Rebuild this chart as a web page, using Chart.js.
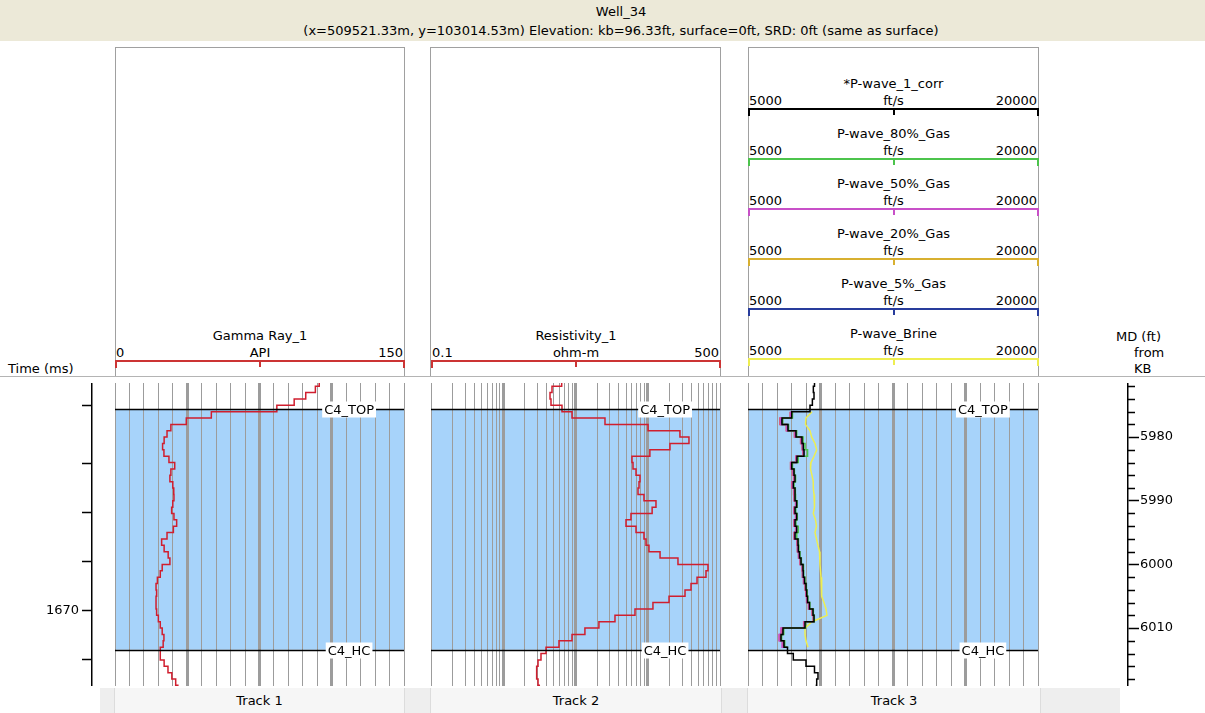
<!DOCTYPE html>
<html>
<head>
<meta charset="utf-8">
<title>Well_34</title>
<script src="https://cdn.jsdelivr.net/npm/chart.js@4.4.0/dist/chart.umd.min.js"></script>
<style>
    body {
        margin: 0;
        width: 1205px;
        height: 713px;
        position: relative;
        overflow: hidden;
        background: #fff;
        font-family: "DejaVu Sans", sans-serif;
        font-size: 13px;
        color: #000;
    }
    .abs { position: absolute; }
    .txt { position: absolute; white-space: nowrap; line-height: 15px; height: 15px; }
    #wellBand { left: 0; top: 0; width: 1205px; height: 41px; background: #ece9d8; }
    #wellHeader {
        left: 0; top: 0; width: 1242px; height: 41px;
        text-align: center; line-height: 19px;
        padding-top: 2px; box-sizing: border-box;
    }
    .head { border: 1px solid #a0a0a0; border-bottom: none; background: #fff; box-sizing: border-box; }
    .tab { background: #f6f6f6; border-left: 1px solid #dcdcdc; border-right: 1px solid #dcdcdc;
           text-align: center; line-height: 25px; box-sizing: border-box; }
    canvas { position: absolute; }
</style>
</head>
<body>
<div id="wellBand" class="abs"></div>
<div id="wellHeader" class="abs">Well_34<br>(x=509521.33m, y=103014.53m) Elevation: kb=96.33ft, surface=0ft, SRD: 0ft (same as surface)</div>

<canvas id="timeAxis" width="100" height="303" style="left:0px; top:383px"></canvas>
<canvas id="track1" width="293" height="303" style="left:113px; top:383px"></canvas>
<canvas id="track2" width="293" height="303" style="left:429px; top:383px"></canvas>
<canvas id="track3" width="294" height="303" style="left:746px; top:383px"></canvas>
<canvas id="mdAxis" width="85" height="303" style="left:1120px; top:383px"></canvas>

<script>
// measured depth samples (ft), one per foot
const DEPTH = [5971, 5972, 5973, 5974, 5975, 5976, 5977, 5978, 5979, 5980,
    5981, 5982, 5983, 5984, 5985, 5986, 5987, 5988, 5989, 5990,
    5991, 5992, 5993, 5994, 5995, 5996, 5997, 5998, 5999, 6000,
    6001, 6002, 6003, 6004, 6005, 6006, 6007, 6008, 6009, 6010,
    6011, 6012, 6013, 6014, 6015, 6016, 6017, 6018, 6019];

// Track 1 - Gamma Ray_1 (API)
const GAMMA = [106, 104, 99, 93, 84, 50, 37, 29, 27, 25.5,
    24.7, 25.4, 28, 31, 29, 28.5, 30, 30.5, 30.6, 30,
    29.4, 30.6, 32, 30.3, 27, 24.2, 25.5, 27.6, 28.5, 24.5,
    23.5, 22, 21.3, 21.6, 21.3, 21.3, 21.6, 22.5, 23.5, 24.5,
    25.4, 25, 23.5, 23.5, 25.5, 27.5, 29.5, 31.5, 33];

// Track 2 - Resistivity_1 (ohm-m)
const RESIST = [6.44, 4.73, 4.44, 4.58, 6.5, 8.95, 25.6, 101, 279, 372,
    203, 107, 60.5, 62.5, 68.8, 78.1, 75.7, 73.3, 88.7, 130,
    115, 58.6, 50, 68.8, 88.7, 94.6, 104, 148, 262, 682,
    640, 481, 397, 328, 197, 118, 66.6, 35.2, 21.1, 13.5,
    8.95, 5.91, 3.91, 3.33, 3.03, 2.9, 2.9, 3.03, 3.23];

// Track 3 - *P-wave_1_corr (ft/s), whole interval
const PW_CORR = [8440, 8380, 8414, 8330, 8207, 7260, 6758, 7069, 7483, 7793,
    7860, 7896, 7534, 7260, 7379, 7431, 7343, 7431, 7431, 7519,
    7431, 7519, 7431, 7519, 7431, 7586, 7602, 7664, 7741, 7845,
    7860, 7922, 8000, 8036, 8077, 8181, 8362, 8414, 7948, 6810,
    6707, 6862, 7043, 7343, 8000, 8439, 8620, 8553, 8500];

// substituted curves, only inside the C4 zone (5976 - 6013 ft)
const ZONE_DEPTH = DEPTH.slice(5, 43);
const PW_80 = [7300, 6800, 7100, 7520, 7850, 7950, 8080, 7600, 7300, 7400,
    7460, 7380, 7450, 7460, 7540, 7470, 7550, 7480, 7600, 7520,
    7610, 7630, 7690, 7760, 7870, 7880, 7950, 8020, 8060, 8100,
    8200, 8380, 8430, 7980, 6850, 6740, 6900, 7080];
const PW_50 = [7200, 6680, 7000, 7430, 7750, 7820, 7860, 7490, 7220, 7330,
    7390, 7290, 7390, 7400, 7480, 7390, 7480, 7390, 7480, 7400,
    7550, 7570, 7630, 7710, 7810, 7830, 7890, 7970, 8010, 8050,
    8150, 8330, 8390, 7900, 6700, 6600, 6760, 6980];
const PW_20 = [7180, 6650, 6980, 7400, 7720, 7800, 7840, 7470, 7200, 7300,
    7360, 7260, 7360, 7380, 7460, 7370, 7460, 7370, 7460, 7380,
    7530, 7550, 7610, 7690, 7790, 7810, 7870, 7950, 7990, 8030,
    8130, 8310, 8370, 7880, 6740, 6650, 6800, 7000];
const PW_5 = [7230, 6720, 7040, 7460, 7770, 7840, 7880, 7510, 7240, 7350,
    7410, 7320, 7410, 7410, 7500, 7410, 7500, 7410, 7500, 7410,
    7570, 7590, 7650, 7720, 7830, 7850, 7910, 7990, 8020, 8060,
    8160, 8350, 8400, 7920, 6760, 6680, 6830, 7020];
const PW_BRINE = [8310, 8000, 7974, 8207, 8294, 8465, 8553, 8414, 8258, 8233,
    8310, 8377, 8377, 8414, 8465, 8414, 8377, 8491, 8543, 8465,
    8543, 8620, 8698, 8724, 8724, 8750, 8776, 8791, 8812, 8827,
    8931, 9034, 9086, 8310, 7948, 7948, 8000, 8103];

// formation tops
const TOPS_NAME = ['C4_TOP', 'C4_HC'];
const TOPS_MD = [5975.6, 6013.4];

// header curve scales of track 3
const T3_NAMES = ['*P-wave_1_corr', 'P-wave_80%_Gas', 'P-wave_50%_Gas', 'P-wave_20%_Gas', 'P-wave_5%_Gas', 'P-wave_Brine'];
const T3_COLORS = ['#000000', '#4cc44c', '#c850c8', '#d8b030', '#283c9c', '#eeee50'];
const T3_MIN = 5000;
const T3_MAX = 20000;

// depth axis ticks
const MD_MIN = 5971.5;
const MD_MAX = 6019.1;
const MD_MAJOR = [5980, 5990, 6000, 6010];
const MD_MINOR = [5972, 5974, 5976, 5978, 5982, 5984, 5986, 5988, 5992, 5994, 5996, 5998,
    6002, 6004, 6006, 6008, 6012, 6014, 6016, 6018];

// time-depth table for the time axis ticks
const TIME_TICKS = [1662, 1664, 1666, 1668, 1670, 1672];
const TIME_TICK_MD = [5975.0, 5984.1, 5991.9, 5999.6, 6007.3, 6015.0];
const TIME_LABELS = [1670];

const BLUE_ZONE = '#a7d3fa';
const CURVE_RED = '#d01e2e';
const GRID = '#9c9c9c';
const FONT = '"DejaVu Sans", sans-serif';

window.onload = function () {
    buildHeaders();
    initTimeAxis();
    initTracks();
    initMdAxis();
};

function addText(text, left, top, width, align) {
    let d = document.createElement('div');
    d.className = 'txt';
    d.style.left = left + 'px';
    d.style.top = top + 'px';
    d.style.width = width + 'px';
    d.style.textAlign = align;
    d.textContent = text;
    document.body.appendChild(d);
}

function addBox(left, top, width, height, css) {
    let d = document.createElement('div');
    d.className = 'abs';
    d.style.cssText += 'left:' + left + 'px;top:' + top + 'px;width:' + width + 'px;height:' + height + 'px;' + (css || '');
    document.body.appendChild(d);
    return d;
}

function addScale(left, width, lineY, name, unit, lo, hi, color) {
    addText(name, left, lineY - 33, width, 'center');
    addText(lo, left + 1, lineY - 16, width, 'left');
    addText(unit, left, lineY - 16, width, 'center');
    addText(hi, left, lineY - 16, width - 2, 'right');
    addBox(left, lineY - 1, width, 2, 'background:' + color);
    addBox(left, lineY - 1, 2, 8, 'background:' + color);
    addBox(left + Math.round(width / 2) - 1, lineY - 1, 2, 7, 'background:' + color);
    addBox(left + width - 2, lineY - 1, 2, 8, 'background:' + color);
}

function buildHeaders() {
    // track header boxes
    addBox(115, 47, 290, 330, '').className = 'abs head';
    addBox(430, 47, 291, 330, '').className = 'abs head';
    addBox(748, 47, 291, 330, '').className = 'abs head';

    addScale(115, 290, 361, 'Gamma Ray_1', 'API', '0', '150', '#cc3434');
    addScale(431, 290, 361, 'Resistivity_1', 'ohm-m', '0.1', '500', '#cc3434');
    for (let i = 0; i < T3_NAMES.length; i++) {
        addScale(748, 291, 109 + i * 50, T3_NAMES[i], 'ft/s', String(T3_MIN), String(T3_MAX), T3_COLORS[i]);
    }

    // separator between headers and log bodies
    addBox(0, 376, 1205, 0, 'border-top:1px solid #b4b4b4');

    addText('Time (ms)', 8, 361, 80, 'left');
    addText('MD (ft)', 1116, 329, 60, 'left');
    addText('from', 1134, 345, 40, 'left');
    addText('KB', 1134, 361, 40, 'left');

    // track tabs at the bottom
    addBox(100, 688, 1020, 25, 'background:#eeeeee');
    let tabs = [[114, 291, 'Track 1'], [430, 292, 'Track 2'], [747, 294, 'Track 3']];
    for (let t of tabs) {
        let d = addBox(t[0], 688, t[1], 25, '');
        d.className = 'abs tab';
        d.textContent = t[2];
    }
}

const zonePlugin = {
    id: 'zone',
    beforeDraw(chart) {
        let a = chart.chartArea;
        let y = chart.scales.y;
        let c = chart.ctx;
        let y1 = y.getPixelForValue(TOPS_MD[0]);
        let y2 = y.getPixelForValue(TOPS_MD[1]);
        c.save();
        c.fillStyle = BLUE_ZONE;
        c.fillRect(a.left, y1, a.right - a.left, y2 - y1);
        c.restore();
    }
};

const topsPlugin = {
    id: 'tops',
    afterDatasetsDraw(chart) {
        let a = chart.chartArea;
        let y = chart.scales.y;
        let c = chart.ctx;
        c.save();
        c.font = '13px ' + FONT;
        c.textAlign = 'center';
        c.textBaseline = 'middle';
        for (let i = 0; i < TOPS_MD.length; i++) {
            let py = Math.round(y.getPixelForValue(TOPS_MD[i])) + 0.5;
            c.strokeStyle = '#000';
            c.lineWidth = 1.5;
            c.beginPath();
            c.moveTo(a.left, py);
            c.lineTo(a.right, py);
            c.stroke();
            let cx = a.left + (a.right - a.left) * 0.81;
            let w = c.measureText(TOPS_NAME[i]).width + 4;
            c.fillStyle = '#fff';
            c.fillRect(cx - w / 2, py - 8, w, 16);
            c.fillStyle = '#000';
            c.fillText(TOPS_NAME[i], cx, py + 1);
        }
        c.restore();
    }
};

function gridOptions(thick) {
    return {
        drawTicks: false,
        color: GRID,
        lineWidth: function (ctx) {
            return thick.indexOf(ctx.tick.value) >= 0 ? 3 : 1;
        }
    };
}

function xScale(type, min, max, gridValues, thick) {
    return {
        type: type,
        min: min,
        max: max,
        afterBuildTicks: function (s) {
            s.ticks = gridValues.map(v => ({ value: v }));
        },
        afterFit: function (s) {
            s.height = 0;
        },
        ticks: { display: false },
        border: { display: false },
        grid: gridOptions(thick)
    };
}

function curve(xs, ys, color, width, stepped) {
    return {
        data: xs.map((v, i) => ({ x: v, y: ys[i] })),
        showLine: true,
        borderColor: color,
        borderWidth: width,
        pointRadius: 0,
        stepped: stepped,
        fill: false
    };
}

function trackChart(canvasId, scaleX, datasets) {
    let ctx = document.getElementById(canvasId).getContext('2d');
    return new Chart(ctx, {
        type: 'scatter',
        data: { datasets: datasets },
        options: {
            responsive: false,
            animation: false,
            events: [],
            layout: { padding: { left: 2, right: 2, top: 0, bottom: 0 } },
            plugins: { legend: { display: false }, tooltip: { enabled: false } },
            scales: {
                x: scaleX,
                y: { display: false, reverse: true, min: MD_MIN, max: MD_MAX }
            }
        },
        plugins: [zonePlugin, topsPlugin]
    });
}

function initTracks() {
    // linear grids: 20 divisions, heavier line every quarter
    let grGrid = [];
    for (let i = 0; i <= 20; i++) grGrid.push(i * 7.5);
    let pwGrid = [];
    for (let i = 0; i <= 20; i++) pwGrid.push(T3_MIN + i * 750);
    // log grid, four decades
    let resGrid = [];
    [0.1, 1, 10, 100].forEach(function (dec) {
        for (let k = 1; k <= 9; k++) {
            resGrid.push(Math.round(dec * k * 10) / 10);
        }
    });
    resGrid.push(1000);

    trackChart('track1', xScale('linear', 0, 150, grGrid, [37.5, 75, 112.5]), [
        curve(GAMMA, DEPTH, CURVE_RED, 1.5, 'after')
    ]);

    trackChart('track2', xScale('logarithmic', 0.1, 1000, resGrid, [1, 10, 100]), [
        curve(RESIST, DEPTH, CURVE_RED, 1.5, 'after')
    ]);

    trackChart('track3', xScale('linear', T3_MIN, T3_MAX, pwGrid, [8750, 12500, 16250]), [
        curve(PW_CORR, DEPTH, T3_COLORS[0], 1.5, 'after'),
        curve(PW_80, ZONE_DEPTH, T3_COLORS[1], 1.5, 'after'),
        curve(PW_50, ZONE_DEPTH, T3_COLORS[2], 1.5, 'after'),
        curve(PW_20, ZONE_DEPTH, '#e05050', 1.5, 'after'),
        curve(PW_5, ZONE_DEPTH, T3_COLORS[4], 1.5, 'after'),
        curve(PW_BRINE, ZONE_DEPTH, T3_COLORS[5], 1.5, false)
    ]);
}

function noPadding(s, width) {
    s.width = width;
    s.paddingTop = 0;
    s.paddingBottom = 0;
}

function initTimeAxis() {
    let ctx = document.getElementById('timeAxis').getContext('2d');
    new Chart(ctx, {
        type: 'scatter',
        data: { datasets: [] },
        options: {
            responsive: false,
            animation: false,
            events: [],
            layout: { padding: 0 },
            plugins: { legend: { display: false }, tooltip: { enabled: false } },
            scales: {
                x: { display: false },
                y: {
                    min: MD_MIN,
                    max: MD_MAX,
                    reverse: true,
                    position: 'left',
                    afterFit: function (s) { noPadding(s, 92); },
                    afterBuildTicks: function (s) {
                        s.ticks = TIME_TICK_MD.map(v => ({ value: v }));
                    },
                    grid: { drawOnChartArea: false, tickLength: 10, color: '#000', tickWidth: 1.5 },
                    border: { color: '#000', width: 1.5 },
                    ticks: {
                        autoSkip: false,
                        padding: 3,
                        color: '#000',
                        font: { family: FONT, size: 13 },
                        callback: function (v, i) {
                            return TIME_LABELS.indexOf(TIME_TICKS[i]) >= 0 ? String(TIME_TICKS[i]) : '';
                        }
                    }
                }
            }
        }
    });
}

const minorTickPlugin = {
    id: 'minorTicks',
    afterDraw(chart) {
        let s = chart.scales.y;
        let c = chart.ctx;
        c.save();
        c.strokeStyle = '#000';
        c.lineWidth = 1.5;
        c.beginPath();
        for (let v of MD_MINOR) {
            let py = Math.round(s.getPixelForValue(v)) + 0.5;
            c.moveTo(s.left, py);
            c.lineTo(s.left + 7, py);
        }
        c.stroke();
        c.restore();
    }
};

function initMdAxis() {
    let ctx = document.getElementById('mdAxis').getContext('2d');
    new Chart(ctx, {
        type: 'scatter',
        data: { datasets: [] },
        options: {
            responsive: false,
            animation: false,
            events: [],
            layout: { padding: 0 },
            plugins: { legend: { display: false }, tooltip: { enabled: false } },
            scales: {
                x: { display: false },
                y: {
                    min: MD_MIN,
                    max: MD_MAX,
                    reverse: true,
                    position: 'right',
                    afterFit: function (s) { noPadding(s, 77); },
                    afterBuildTicks: function (s) {
                        s.ticks = MD_MAJOR.map(v => ({ value: v }));
                    },
                    grid: { drawOnChartArea: false, tickLength: 11, color: '#000', tickWidth: 1.5 },
                    border: { color: '#000', width: 1.5 },
                    ticks: {
                        autoSkip: false,
                        padding: 1,
                        color: '#000',
                        font: { family: FONT, size: 13 },
                        callback: function (v) {
                            return String(v);
                        }
                    }
                }
            }
        },
        plugins: [minorTickPlugin]
    });
}
</script>
</body>
</html>
